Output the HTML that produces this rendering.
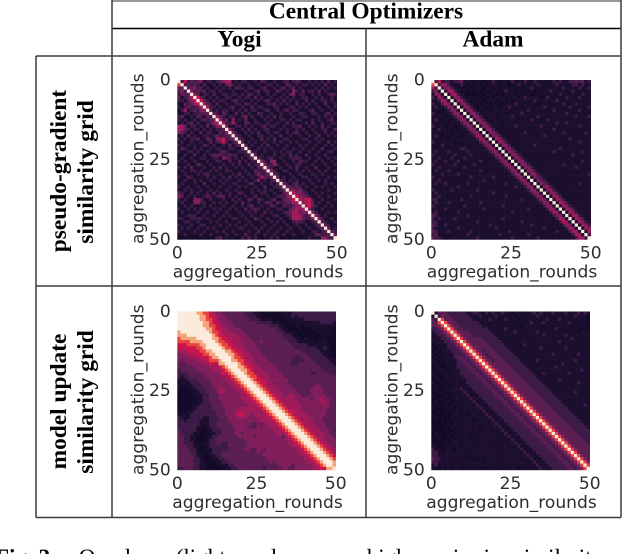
<!DOCTYPE html>
<html>
<head>
<meta charset="utf-8">
<title>Central Optimizers similarity grids</title>
<style>
html,body{margin:0;padding:0;background:#fff;width:634px;height:554px;overflow:hidden}
svg{display:block}
.hdr{font-family:"Liberation Serif",serif;font-weight:bold;font-size:23.4px;fill:#000;text-anchor:middle}
.ax{font-family:"DejaVu Sans",sans-serif;font-size:17.1px;fill:#2e2e2e}
.cap{font-family:"Liberation Serif",serif;font-size:23px;fill:#000}
</style>
</head>
<body>
<svg id="chart" width="634" height="554" viewBox="0 0 634 554" xmlns="http://www.w3.org/2000/svg">
<g stroke="#3a3a3a" stroke-width="1.5" fill="none">
<line x1="112" y1="1" x2="621" y2="1" stroke="#777"/>
<line x1="112" y1="28.5" x2="621" y2="28.5" stroke="#000"/>
<line x1="36" y1="56" x2="621" y2="56"/>
<line x1="36" y1="286" x2="621" y2="286"/>
<line x1="36" y1="517.5" x2="621" y2="517.5"/>
<line x1="36" y1="56" x2="36" y2="517.5"/>
<line x1="112" y1="0" x2="112" y2="517.5"/>
<line x1="366" y1="28.5" x2="366" y2="517.5"/>
<line x1="621" y1="0" x2="621" y2="517.5"/>
</g>
<text class="hdr" x="366" y="18.5">Central Optimizers</text>
<text class="hdr" x="239.5" y="46.5">Yogi</text>
<text class="hdr" x="493" y="46.5">Adam</text>
<text class="hdr" transform="translate(66,171) rotate(-90)">pseudo-gradient</text>
<text class="hdr" transform="translate(93,172) rotate(-90)">similarity grid</text>
<text class="hdr" transform="translate(66,401.5) rotate(-90)">model update</text>
<text class="hdr" transform="translate(93,402) rotate(-90)">similarity grid</text>
<text class="cap" y="565"><tspan x="-5" font-weight="bold">Fig. 2:</tspan><tspan x="73"> Overlap</tspan><tspan x="170"> (lighter colors mean higher pairwise similarity</tspan></text>
</svg>
<script>
const tickValues = [0, 25, 50];
const axisDomain = [0, 50];
const axisLabel = 'aggregation_rounds';
const levelMax = 9;

const yogiGradient = [
[9,2,6,2,3,2,3,4,1,2, 2,1,2,3,4,5,5,1,2,1, 2,2,1,1,2,1,3,2,1,1, 2,1,1,2,2,1,2,3,2,1, 1,2,1,2,1,2,1,3,1,2],
[7,9,2,3,2,3,2,1,3,1, 1,2,1,2,1,3,4,2,1,2, 1,1,2,1,1,2,1,1,2,2, 1,2,1,1,3,2,1,2,1,2, 2,1,2,1,2,1,3,1,2,1],
[3,3,9,3,3,4,2,3,1,2, 1,1,2,1,2,1,2,1,3,2, 2,1,2,2,1,1,2,3,1,1, 2,1,2,3,1,2,3,1,2,1, 1,1,1,2,1,2,1,2,1,2],
[3,4,2,9,4,2,3,2,3,1, 2,2,1,2,1,1,1,2,1,1, 1,2,1,1,2,3,1,2,2,1, 1,3,2,1,2,1,4,2,1,3, 1,2,2,1,3,1,2,1,1,1],
[2,3,3,3,9,4,3,1,2,2, 1,3,1,1,2,2,1,2,2,1, 2,1,3,2,1,2,1,1,2,1, 2,1,1,2,1,3,4,1,2,2, 1,1,2,1,2,1,1,2,3,2],
[3,1,2,3,5,9,6,3,2,1, 2,1,2,1,1,2,2,1,1,2, 1,2,2,1,3,1,2,1,1,2, 1,1,2,1,2,1,2,1,1,2, 2,1,1,2,1,2,1,1,2,1],
[2,2,1,3,4,6,9,6,3,2, 1,2,1,2,2,1,1,2,3,1, 2,1,1,2,1,2,1,2,3,1, 1,2,1,3,1,2,1,2,1,1, 3,1,2,1,1,2,2,1,2,1],
[1,1,3,2,3,5,5,9,5,3, 2,1,3,1,1,2,1,1,2,2, 1,3,2,1,2,1,1,1,2,2, 3,1,2,1,2,1,1,3,1,2, 1,2,1,2,1,1,3,1,1,2],
[2,1,2,3,2,2,3,5,9,5, 2,2,1,2,1,1,2,3,1,1, 2,1,1,3,1,2,2,1,1,1, 2,2,1,1,1,2,2,1,2,1, 2,1,1,1,2,1,1,2,1,2],
[0,2,5,1,2,3,2,4,4,9, 3,1,2,1,2,2,1,2,1,2, 1,3,1,2,2,1,1,2,3,1, 1,2,1,2,3,1,2,2,1,1, 1,2,3,1,1,2,1,1,2,1],
[1,1,2,2,1,2,2,3,3,3, 9,3,2,1,3,2,1,1,3,1, 2,1,2,1,1,3,2,1,1,2, 1,1,2,1,1,2,1,1,2,2, 1,1,2,2,1,1,2,3,1,2],
[2,3,1,1,2,1,3,2,1,3, 2,9,5,3,2,1,2,2,1,1, 2,4,1,2,1,1,2,1,2,1, 3,1,2,1,1,1,2,1,1,2, 2,1,1,1,2,1,2,1,2,1],
[2,1,2,1,1,2,1,2,3,2, 3,3,9,5,2,3,1,4,1,2, 1,3,1,1,2,1,1,2,1,2, 1,1,2,2,1,2,1,2,2,1, 1,1,2,1,2,1,1,2,3,1],
[1,2,1,2,3,1,2,1,1,2, 2,5,5,9,5,2,2,5,2,1, 1,3,2,1,2,2,1,1,2,1, 1,2,1,1,3,1,2,1,1,1, 2,1,3,1,1,2,1,1,2,2],
[5,5,3,1,2,2,1,2,1,3, 1,2,4,4,9,4,1,1,2,2, 1,2,1,2,1,1,2,3,1,2, 2,1,1,2,1,1,2,2,3,1, 1,2,1,2,1,3,1,2,1,1],
[5,5,3,2,1,2,2,1,2,1, 2,1,2,2,3,9,4,2,1,1, 2,1,3,1,2,1,1,2,2,1, 1,1,2,1,2,1,1,2,1,2, 1,1,2,1,1,2,2,1,1,3],
[4,3,2,1,2,1,1,3,1,2, 2,1,1,3,2,4,9,4,2,1, 1,2,1,2,1,3,1,1,2,1, 2,2,1,1,2,1,2,3,1,1, 2,1,1,2,1,1,2,1,2,1],
[1,2,1,3,1,2,1,1,2,2, 1,2,3,2,2,3,3,9,3,2, 1,1,2,1,1,2,2,1,1,2, 1,1,3,1,1,2,1,1,2,1, 1,2,1,1,3,1,1,2,1,2],
[2,1,2,1,2,2,3,1,1,3, 2,1,4,4,6,2,3,3,9,3, 2,1,1,2,1,1,3,1,2,1, 3,1,1,2,2,1,1,1,1,2, 2,1,1,2,1,2,1,1,1,1],
[1,2,1,1,2,1,1,2,1,1, 3,1,2,3,6,2,1,2,3,9, 3,1,2,1,2,1,1,2,1,1, 2,1,2,1,1,2,1,2,1,1, 1,2,1,1,2,1,1,3,1,2],
[2,1,1,2,1,2,1,1,3,2, 1,2,1,1,2,1,3,1,2,3, 9,3,1,2,1,1,2,1,3,1, 1,2,1,1,2,1,1,1,2,1, 2,1,1,2,1,1,2,1,2,1],
[1,3,2,1,1,2,1,2,1,1, 2,1,2,2,1,1,2,2,1,1, 3,9,2,1,1,2,1,2,1,2, 1,1,1,2,1,1,2,1,1,2, 1,1,2,1,1,3,1,1,1,2],
[2,1,1,2,2,1,2,1,1,2, 1,1,1,2,3,2,1,1,1,2, 2,2,9,2,2,1,1,2,1,1, 2,1,2,1,2,2,1,1,2,1, 1,2,1,1,2,1,1,2,2,1],
[1,1,2,1,1,3,1,1,2,1, 2,3,3,3,2,2,3,2,2,1, 1,2,2,9,3,1,2,1,1,1, 2,1,1,2,1,3,1,2,1,1, 3,1,1,2,1,1,2,1,1,1],
[1,2,1,1,2,1,1,2,2,1, 1,2,2,1,4,3,2,1,2,1, 2,1,2,3,9,3,2,1,2,3, 1,1,2,1,1,2,2,3,2,1, 1,2,1,1,2,1,1,2,1,2],
[2,1,2,1,1,2,1,1,1,2, 1,1,2,2,1,1,3,1,1,3, 1,2,1,2,2,9,4,2,1,4, 5,1,1,2,1,1,2,1,3,2, 2,1,1,2,1,2,1,1,2,1],
[1,1,1,2,1,1,3,2,1,1, 2,1,1,1,2,1,1,2,1,2, 1,1,3,1,2,3,9,4,2,2, 5,2,1,1,2,1,1,2,2,1, 1,1,2,1,1,1,2,1,1,2],
[2,1,2,1,3,1,1,1,2,1, 1,2,1,3,1,2,1,1,2,1, 2,1,1,2,1,3,3,9,3,2, 1,1,2,1,1,2,1,3,1,1, 2,1,1,3,1,1,1,2,1,1],
[1,2,1,1,2,2,1,2,1,1, 2,1,2,1,1,2,2,1,1,1, 1,2,1,1,3,2,2,3,9,4, 2,1,1,2,2,1,1,2,1,2, 1,2,1,1,2,1,2,1,1,2],
[1,1,2,1,1,1,2,1,2,3, 1,1,1,2,1,1,1,2,1,3, 1,1,2,1,2,4,2,2,3,9, 3,2,1,1,1,2,1,1,2,1, 1,1,2,1,1,2,1,1,1,1],
[2,1,1,3,2,1,1,1,1,2, 1,2,1,1,2,1,3,1,2,1, 2,1,1,2,1,2,5,3,2,3, 9,3,1,2,1,1,2,1,1,2, 2,1,1,2,1,1,1,2,1,2],
[1,1,2,1,1,2,1,2,1,1, 2,1,1,2,1,2,1,1,1,2, 1,2,1,1,2,4,1,2,1,2, 3,9,3,2,1,2,1,2,1,1, 1,2,1,1,2,1,2,1,1,1],
[1,2,1,1,1,2,1,1,3,1, 1,2,1,1,2,1,1,2,2,1, 1,1,2,3,1,1,2,1,1,2, 1,3,9,3,2,1,2,3,1,2, 1,1,2,1,1,1,2,1,2,1],
[2,1,1,2,1,1,2,1,1,2, 1,1,1,2,1,1,2,1,1,2, 1,2,1,1,2,1,1,3,1,1, 2,2,3,9,3,3,2,3,2,1, 2,1,1,2,1,2,1,1,1,2],
[1,1,2,1,2,1,1,2,1,1, 2,1,2,1,1,2,1,1,2,1, 1,1,1,2,1,2,1,2,1,2, 1,1,2,3,9,4,4,3,4,2, 1,1,2,1,1,1,1,2,1,1],
[3,2,1,1,2,1,2,1,1,2, 1,3,1,2,1,1,2,1,1,3, 2,1,1,2,1,1,2,2,1,1, 2,1,1,3,4,9,5,4,4,3, 2,1,1,2,1,2,1,1,1,2],
[4,3,1,2,1,2,1,1,2,3, 2,1,2,3,3,1,2,1,2,1, 1,2,1,1,3,1,1,1,2,1, 1,2,3,2,4,5,9,6,4,4, 3,2,1,1,2,1,1,2,1,1],
[2,1,2,1,1,4,4,3,1,1, 2,1,1,1,2,1,1,2,1,2, 1,1,3,2,1,3,2,1,1,2, 3,1,1,3,3,4,6,9,5,4, 6,6,2,1,1,2,1,1,1,2],
[1,2,1,1,1,4,4,2,2,1, 1,2,1,2,1,2,1,1,2,1, 3,1,2,1,1,2,1,2,3,2, 1,3,2,2,3,3,5,5,9,4, 5,6,3,1,2,1,1,2,1,1],
[1,1,2,1,2,1,1,1,2,1, 2,1,1,1,2,1,1,2,1,1, 2,1,2,3,1,1,2,1,1,3, 2,1,1,3,2,2,3,4,4,9, 5,6,3,2,1,1,2,1,2,1],
[2,1,1,2,1,2,1,2,1,1, 1,2,1,2,1,1,2,1,2,1, 1,3,1,2,3,2,1,1,2,1, 1,2,2,1,1,3,4,5,4,5, 9,4,2,1,1,2,1,1,1,1],
[1,2,1,1,1,1,2,1,1,2, 1,1,2,1,1,2,1,1,1,2, 1,1,2,1,2,1,1,3,1,2, 1,1,1,2,3,3,5,5,3,4, 4,9,4,2,1,1,1,2,1,2],
[1,1,1,2,2,2,1,1,2,1, 1,2,1,1,2,1,2,1,1,1, 2,1,1,2,1,1,2,1,1,1, 2,2,1,1,2,3,5,5,5,3, 2,4,9,4,2,1,2,1,1,1],
[2,2,1,1,2,2,2,2,1,2, 1,1,1,2,1,1,1,2,2,1, 1,2,1,1,3,2,1,1,2,1, 1,1,2,1,1,2,5,5,5,3, 2,2,4,9,4,2,1,1,2,1],
[1,1,2,2,1,1,2,1,1,1, 2,1,2,1,1,2,1,1,1,2, 1,1,2,1,1,1,2,1,1,2, 1,2,1,2,1,1,2,3,2,2, 1,1,2,3,9,3,2,1,1,2],
[2,1,1,1,2,1,1,2,2,1, 1,1,1,2,1,1,2,1,2,1, 1,2,1,2,1,1,1,2,1,1, 2,1,1,1,2,1,1,2,1,1, 2,1,1,2,3,9,3,2,1,1],
[1,2,1,2,1,1,2,1,1,2, 1,2,1,1,1,2,1,1,1,2, 2,1,1,1,2,1,2,1,1,2, 1,1,2,1,1,2,1,1,2,1, 1,2,1,1,2,3,9,3,1,2],
[2,1,1,1,1,2,1,1,2,1, 1,1,2,1,2,1,1,2,1,1, 1,1,2,1,1,3,1,1,2,1, 1,2,1,1,2,1,1,1,1,2, 1,1,2,2,1,2,3,9,3,2],
[1,1,2,1,1,1,1,2,1,1, 2,1,1,1,1,2,1,1,2,1, 1,3,1,1,2,1,1,2,1,1, 2,1,1,2,1,1,2,1,1,1, 1,1,1,3,3,2,2,3,9,3],
[0,0,1,1,0,1,0,1,1,0, 1,1,2,3,1,1,1,1,0,1, 2,1,3,1,2,1,0,1,1,2, 1,2,0,1,1,0,1,1,0,1, 1,2,1,1,1,4,4,2,2,9]
];

const adamGradient = [
[9,2,6,1,2,2,1,2,2,3, 1,1,1,0,1,1,0,1,1,2, 1,1,1,1,1,2,1,1,1,2, 1,1,2,1,1,1,1,1,2,1, 2,1,1,2,2,3,2,3,1,2],
[7,9,2,5,4,2,1,1,1,2, 1,0,1,1,1,0,1,0,1,1, 1,0,1,1,0,1,1,2,1,1, 1,1,1,2,1,1,1,1,1,2, 1,1,1,1,2,2,1,2,1,1],
[5,2,9,2,4,4,2,1,1,1, 0,1,0,1,1,1,0,1,1,0, 1,1,1,1,1,1,1,1,0,1, 1,2,1,1,1,0,1,1,1,1, 1,2,1,1,1,1,2,1,1,2],
[2,4,1,9,1,5,5,2,1,0, 1,0,1,0,1,0,1,1,0,1, 1,0,1,2,1,1,0,1,1,1, 1,1,0,1,1,1,1,2,1,1, 1,1,1,1,2,1,1,1,1,1],
[1,4,4,1,9,1,5,5,2,1, 1,0,0,1,0,1,0,1,1,1, 0,1,0,1,1,1,1,1,1,1, 1,0,1,1,1,1,1,1,1,1, 2,1,1,1,1,1,1,2,1,1],
[2,1,5,3,1,9,1,4,4,2, 1,1,1,0,1,0,1,0,1,0, 1,1,1,0,1,1,1,0,1,2, 1,1,1,1,0,1,2,1,1,1, 1,1,2,1,1,1,2,1,1,1],
[1,1,2,5,4,1,9,1,5,4, 2,1,0,1,0,1,0,1,1,1, 0,1,1,1,1,0,1,1,1,1, 1,1,2,1,1,1,1,1,1,2, 1,1,1,1,1,1,1,1,1,1],
[2,1,1,3,5,4,1,9,1,4, 4,2,1,1,1,0,1,1,0,1, 1,1,0,1,1,1,2,1,1,1, 1,1,1,0,1,1,1,1,1,1, 1,2,1,1,1,2,1,1,1,1],
[1,2,1,1,2,4,4,1,9,1, 4,4,2,1,0,1,1,0,1,1, 1,0,1,1,2,1,1,1,0,1, 1,1,1,1,1,2,1,1,1,1, 1,1,1,2,1,1,1,1,1,2],
[1,1,1,0,1,2,4,4,1,9, 1,4,4,2,1,1,1,1,0,1, 1,1,1,1,1,1,1,1,1,1, 2,1,1,1,1,1,1,1,2,1, 1,1,1,1,1,1,2,1,1,1],
[2,1,0,1,1,1,2,4,4,1, 9,1,4,4,2,1,1,1,1,1, 1,1,1,0,1,1,1,1,2,1, 1,1,1,1,1,1,1,1,1,1, 1,1,2,1,1,1,1,1,1,1],
[1,1,1,1,0,1,1,2,4,4, 1,9,1,4,4,2,1,1,1,1, 0,1,1,1,1,2,1,1,1,1, 1,1,1,2,1,1,1,1,1,1, 1,1,1,1,1,2,1,1,1,2],
[1,2,1,0,1,1,0,1,2,4, 4,1,9,1,4,4,2,1,1,1, 1,1,1,1,1,1,1,1,1,1, 1,2,1,1,1,1,2,1,1,1, 1,1,1,1,1,1,1,1,1,1],
[1,1,1,1,1,0,1,1,1,2, 4,4,1,9,1,4,4,2,1,1, 1,1,0,1,1,1,1,1,1,1, 1,1,1,1,1,1,1,1,1,2, 1,1,2,1,1,1,1,1,1,1],
[2,1,1,1,0,1,1,0,1,1, 2,4,4,1,9,1,4,4,2,1, 1,1,1,1,1,1,2,1,1,1, 1,1,1,1,2,1,1,1,1,1, 1,1,1,1,1,1,2,1,1,1],
[1,1,2,1,1,1,1,1,0,1, 1,2,4,4,1,9,1,4,4,2, 1,1,1,1,1,1,1,1,1,1, 1,1,1,1,1,1,1,1,2,1, 1,1,1,1,1,1,1,1,1,1],
[1,1,1,1,1,1,0,1,1,1, 1,1,2,4,4,1,9,1,4,4, 2,1,1,1,1,1,1,1,1,2, 1,1,1,1,1,1,1,1,1,1, 1,2,1,1,1,1,1,1,2,1],
[1,2,1,0,1,1,1,1,1,0, 1,1,1,2,5,4,1,9,1,4, 4,2,1,1,1,1,1,1,1,1, 1,1,1,1,1,2,1,1,1,1, 1,1,1,1,1,1,1,1,1,1],
[1,1,1,1,1,0,1,1,1,1, 1,1,1,1,2,5,4,1,9,1, 5,4,2,1,1,1,1,1,1,1, 1,1,1,1,1,1,1,1,1,1, 1,1,1,2,1,1,1,1,1,1],
[2,1,1,1,1,1,1,0,1,1, 1,1,1,1,1,2,4,4,1,9, 1,5,4,2,1,1,1,1,1,1, 1,1,1,1,1,1,1,1,1,1, 1,1,1,1,1,1,2,1,1,1],
[1,1,1,2,1,1,1,1,1,1, 1,1,1,1,1,1,2,4,4,1, 9,1,4,4,2,1,1,1,1,1, 1,1,2,1,1,1,1,1,1,1, 1,1,1,1,1,1,1,1,1,1],
[1,1,1,1,1,1,1,1,1,2, 2,1,1,1,1,1,1,2,4,4, 1,9,1,4,4,2,1,1,1,1, 1,1,1,1,1,1,1,1,1,1, 2,1,1,1,1,1,1,1,1,1],
[1,2,1,1,1,2,1,1,1,1, 1,2,1,1,1,1,1,1,2,4, 4,1,9,1,4,4,2,1,1,1, 1,1,1,1,1,1,1,1,2,1, 1,1,1,1,1,1,1,2,1,1],
[2,1,1,1,1,1,1,2,1,1, 1,1,2,1,1,1,1,1,1,2, 4,4,1,9,1,4,4,2,1,1, 1,1,1,1,1,1,1,1,1,1, 1,1,1,1,2,1,1,1,1,1],
[1,1,2,1,1,1,2,1,1,1, 2,1,1,1,1,1,1,1,1,1, 2,4,4,1,9,1,4,4,2,1, 1,1,1,1,1,1,1,1,1,1, 1,1,1,1,1,1,1,1,1,1],
[1,2,1,1,2,1,1,1,2,1, 1,1,1,1,1,2,1,1,1,1, 1,2,4,4,1,9,1,4,4,2, 1,1,1,1,1,1,1,1,1,1, 1,1,1,1,1,1,1,2,1,1],
[2,1,1,1,1,1,1,2,1,1, 1,1,1,2,1,1,1,1,1,1, 1,1,2,4,4,1,9,1,4,4, 2,1,1,1,1,1,1,1,1,1, 1,2,1,1,1,1,1,1,1,1],
[1,1,2,1,1,1,1,1,1,1, 2,1,1,1,1,1,1,1,1,1, 1,1,1,2,4,4,1,9,1,4, 4,2,1,1,1,1,1,1,1,1, 1,1,1,1,1,2,1,1,1,1],
[1,2,1,1,1,2,1,1,1,1, 1,1,1,1,1,2,1,1,1,1, 1,1,1,1,2,4,4,1,9,1, 4,4,2,1,1,1,1,1,1,1, 1,1,1,1,1,1,1,1,1,1],
[1,1,1,2,1,1,1,1,2,1, 1,1,1,1,1,1,1,1,1,1, 1,1,1,1,1,2,4,4,1,9, 1,4,4,2,1,1,1,1,1,1, 1,1,1,1,1,1,1,1,1,2],
[2,1,1,1,1,1,1,1,1,1, 1,1,2,1,1,1,1,1,1,2, 1,1,1,1,1,1,2,4,4,1, 9,1,4,3,2,1,1,1,1,1, 1,1,1,1,1,1,1,1,1,1],
[1,1,2,1,1,1,1,1,1,1, 1,1,1,1,1,1,2,1,1,1, 1,1,1,1,1,1,1,2,4,4, 1,9,1,4,3,2,1,1,1,1, 1,1,1,1,1,1,1,1,1,1],
[1,2,1,1,2,1,1,1,1,1, 1,2,1,1,1,1,1,1,1,1, 1,1,1,2,1,1,1,1,2,4, 4,1,9,1,4,3,2,1,1,1, 1,1,1,1,1,1,2,1,1,1],
[1,1,1,1,1,1,1,1,2,1, 1,1,1,1,1,1,1,1,1,1, 1,1,1,1,1,1,2,1,1,2, 4,4,1,9,1,4,4,2,1,1, 1,1,1,1,1,1,1,1,1,1],
[2,1,1,1,1,1,2,1,1,1, 1,1,1,1,2,1,1,1,1,1, 1,1,1,1,1,1,1,1,1,1, 2,4,4,1,9,1,4,4,2,1, 1,1,1,1,1,1,1,1,1,1],
[1,2,1,1,1,1,1,1,1,1, 1,1,1,1,1,1,1,1,1,2, 1,1,1,1,1,1,1,1,1,1, 1,2,4,4,1,9,1,4,4,2, 1,1,1,1,1,1,1,1,1,1],
[1,1,2,1,1,1,1,1,1,1, 1,1,2,1,1,1,1,1,1,1, 1,1,1,2,1,1,1,1,1,1, 1,1,2,4,4,1,9,1,5,4, 2,1,1,1,1,1,1,1,1,1],
[2,2,1,1,1,1,1,1,1,2, 1,1,1,1,1,1,1,1,1,1, 1,1,1,1,1,1,1,1,2,1, 1,1,1,2,4,4,1,9,1,5, 4,2,1,1,1,1,1,1,1,1],
[1,2,1,1,1,2,1,1,1,1, 1,1,1,1,1,2,1,1,1,1, 1,1,1,1,1,1,1,1,1,1, 1,1,1,1,2,4,4,1,9,1, 5,4,2,1,1,1,1,1,1,1],
[2,1,1,1,1,1,1,1,1,1, 2,1,1,1,1,1,1,1,1,1, 1,1,2,1,1,1,1,1,1,1, 1,1,1,1,1,2,4,4,1,9, 1,5,4,2,1,1,1,1,1,1],
[1,1,1,1,2,1,1,1,1,1, 1,1,1,1,1,1,2,1,1,1, 1,1,1,1,1,1,1,1,1,1, 2,1,1,1,1,1,2,5,4,1, 9,1,5,4,2,1,1,1,1,1],
[1,2,1,1,1,1,1,1,2,1, 1,1,1,1,1,1,1,1,1,1, 1,1,1,1,1,2,1,1,1,1, 1,1,1,1,1,1,1,2,5,4, 1,9,1,5,4,2,1,1,1,1],
[3,2,1,1,1,1,1,1,1,1, 1,2,1,1,1,1,1,1,1,1, 1,1,1,1,1,1,1,1,1,1, 1,1,1,1,1,1,1,1,2,4, 4,1,9,1,5,5,2,1,1,1],
[2,1,2,1,1,1,1,2,1,1, 1,1,1,1,1,1,1,1,1,1, 1,1,2,1,1,1,1,1,1,1, 1,1,1,1,1,1,1,1,1,2, 5,4,1,9,1,5,4,2,1,1],
[2,2,1,1,1,1,1,1,1,1, 1,1,1,1,2,1,1,1,1,1, 1,1,1,1,1,1,1,1,2,1, 1,1,1,1,1,1,1,1,1,1, 2,6,4,1,9,1,5,4,2,1],
[3,2,1,1,2,1,1,1,1,1, 1,1,1,1,1,1,1,1,2,1, 1,1,1,1,1,1,1,1,1,1, 1,2,1,1,1,1,1,1,1,1, 1,2,5,4,1,9,1,5,4,2],
[2,1,1,1,1,1,1,1,2,1, 1,1,1,1,1,1,1,1,1,1, 2,1,1,1,1,1,1,1,1,1, 1,1,1,1,1,2,1,1,1,1, 1,1,2,5,4,1,9,1,5,4],
[3,2,1,1,1,2,1,1,1,1, 1,1,2,1,1,1,1,1,1,1, 1,1,1,1,2,1,1,1,1,1, 1,1,1,1,1,1,1,1,1,2, 1,1,1,2,5,5,1,9,1,5],
[2,3,1,0,1,1,1,1,1,1, 1,2,1,1,1,1,1,1,1,1, 1,2,1,1,1,1,1,1,1,1, 2,1,1,1,1,1,1,1,1,1, 1,1,1,1,2,5,5,1,9,2],
[3,2,2,1,0,1,1,1,1,1, 1,1,1,1,2,1,1,1,1,1, 1,1,1,1,1,2,1,1,1,1, 1,1,1,2,1,1,1,1,1,1, 1,1,1,1,1,2,5,5,2,9]
];

const yogiUpdate = [
[9,9,9,9,9,9,8,8,7,7, 6,5,4,4,3,3,3,3,3,3, 3,2,2,2,1,1,0,0,0,0, 0,0,1,1,1,1,2,2,2,2, 2,2,2,2,2,2,2,2,2,2],
[9,9,9,9,9,9,9,8,8,7, 6,6,5,4,4,3,3,3,3,3, 3,3,2,2,2,1,1,0,0,0, 0,0,0,1,1,1,2,1,2,2, 2,2,2,2,2,2,2,2,2,2],
[9,9,9,9,9,9,9,8,8,7, 7,6,5,4,4,4,3,3,3,3, 3,3,3,2,2,2,1,1,1,1, 0,0,0,0,1,1,1,1,1,1, 2,2,2,2,2,2,2,2,2,2],
[9,9,9,9,9,9,9,9,8,8, 7,6,6,5,4,4,4,3,3,3, 3,3,3,3,3,2,2,2,2,2, 1,1,1,0,0,1,1,1,1,1, 1,1,1,1,1,2,2,2,2,1],
[9,9,9,9,9,9,9,9,8,8, 7,7,6,5,5,4,4,4,3,3, 3,3,3,3,3,3,3,3,3,2, 2,2,1,1,0,0,0,1,1,0, 1,1,1,1,1,1,1,1,1,1],
[9,9,9,9,9,9,9,9,9,8, 8,7,6,6,5,5,4,4,4,4, 3,3,3,3,3,3,3,3,3,3, 3,2,2,1,1,0,0,0,1,0, 0,0,1,1,1,1,1,1,1,0],
[8,9,9,9,9,9,9,9,9,9, 8,7,7,6,5,5,5,4,4,4, 4,3,3,3,3,3,3,3,3,3, 3,3,2,2,1,1,1,0,0,0, 0,0,0,0,1,1,1,1,0,0],
[8,8,8,9,9,9,9,9,9,9, 9,8,7,6,6,5,5,5,5,4, 4,4,3,3,3,3,3,3,3,3, 3,3,3,2,2,2,1,1,0,0, 0,0,0,0,0,0,1,1,0,0],
[7,8,8,8,8,8,9,9,9,9, 9,8,8,7,6,6,5,5,5,5, 4,4,4,3,3,3,3,3,3,3, 3,3,3,3,2,2,2,1,1,0, 1,1,0,0,0,1,1,0,0,0],
[7,7,7,7,8,8,8,8,9,9, 9,9,8,7,7,6,6,5,5,5, 4,4,4,4,3,3,4,3,3,3, 3,3,3,3,3,2,2,2,1,1, 1,1,1,0,1,1,1,1,0,0],
[6,6,6,7,7,7,7,8,8,9, 9,9,9,8,7,7,6,6,5,5, 5,4,4,4,4,3,3,3,3,3, 3,3,3,3,3,3,2,2,2,2, 2,1,1,1,1,1,1,1,0,0],
[6,6,6,6,6,6,7,7,8,9, 9,9,9,9,8,7,7,6,6,5, 5,4,4,4,4,3,3,3,3,3, 3,3,3,3,3,3,3,2,2,2, 2,2,2,2,1,1,2,1,0,0],
[5,5,5,6,6,6,6,7,7,8, 8,9,9,9,9,8,8,7,6,6, 5,5,4,4,4,4,3,3,3,3, 3,3,3,3,3,3,3,3,3,2, 2,2,2,2,2,1,1,1,0,0],
[4,4,5,5,5,6,6,6,7,7, 8,8,9,9,9,9,8,8,7,6, 6,5,5,4,4,4,4,3,3,3, 3,3,3,3,3,3,3,3,3,3, 3,2,2,2,2,2,1,1,0,0],
[4,4,4,4,5,5,5,6,6,6, 7,8,8,9,9,9,9,8,7,7, 6,5,5,5,4,4,4,4,3,3, 3,3,3,3,3,3,3,2,2,3, 3,3,2,2,2,2,2,1,1,0],
[4,3,4,4,4,4,5,5,5,6, 7,7,7,8,9,9,9,8,8,7, 7,6,5,5,4,4,4,4,4,3, 3,3,3,3,3,3,2,2,2,2, 3,3,3,2,2,2,2,2,1,1],
[3,3,3,4,4,4,4,4,5,5, 6,6,5,8,8,9,9,9,9,8, 7,6,6,5,5,4,4,4,4,4, 3,3,3,3,3,3,2,2,3,3, 3,3,3,3,2,2,2,2,2,1],
[3,3,3,3,3,4,4,4,4,4, 5,5,5,6,7,8,9,9,9,8, 8,7,6,6,5,5,4,4,4,4, 4,3,3,3,3,3,3,3,3,3, 3,3,3,3,3,2,2,2,2,2],
[2,3,3,3,3,3,4,4,4,4, 4,5,5,5,6,7,8,9,9,9, 8,8,7,6,5,5,5,4,4,4, 4,4,3,3,3,3,3,3,3,3, 3,3,3,3,3,3,2,2,2,2],
[2,2,2,3,3,3,3,3,4,4, 4,4,4,5,6,6,7,8,9,9, 9,8,7,7,6,5,5,5,4,4, 4,4,4,3,3,3,3,3,3,3, 3,3,2,2,3,3,3,3,2,2],
[2,1,2,2,3,3,3,3,3,4, 4,4,4,4,5,5,6,7,8,9, 9,9,8,7,7,6,5,5,5,4, 4,4,4,4,3,3,3,3,3,3, 3,3,3,3,3,3,3,3,3,3],
[1,1,1,2,2,2,3,3,3,3, 4,4,4,4,4,5,5,6,7,8, 9,9,9,8,7,6,6,5,5,4, 4,5,4,4,4,3,3,3,3,3, 3,3,3,3,3,3,3,3,3,3],
[1,1,1,1,2,2,2,3,3,3, 3,4,4,4,4,4,5,5,6,7, 8,9,9,9,8,7,6,6,5,5, 4,4,4,4,4,3,3,3,3,3, 3,3,3,3,3,3,3,3,3,3],
[1,0,0,1,1,2,2,2,3,3, 3,4,4,4,4,4,4,5,5,6, 7,8,9,9,9,8,7,6,5,5, 5,4,4,4,4,4,3,3,3,3, 3,3,3,4,4,3,3,3,3,3],
[0,0,0,0,1,1,2,2,2,3, 3,3,4,5,5,4,4,4,5,5, 6,7,8,9,9,9,8,7,6,5, 5,5,4,4,4,4,4,3,3,3, 3,3,4,4,4,4,3,3,3,3],
[0,0,0,0,0,1,1,2,2,3, 3,3,4,5,5,4,4,4,4,5, 5,6,7,8,9,9,9,8,7,6, 5,5,5,4,4,4,4,4,3,3, 3,3,4,4,4,4,3,3,3,3],
[0,0,0,0,0,1,1,1,2,2, 3,3,3,4,4,4,4,4,4,4, 5,5,6,7,8,9,9,9,8,7, 6,5,5,4,4,5,5,4,4,3, 3,3,4,4,4,4,4,3,3,3],
[0,0,0,0,0,0,1,1,2,2, 3,3,3,4,4,4,4,4,4,4, 5,5,5,6,7,8,9,9,9,8, 7,6,5,5,5,5,5,4,4,4, 4,4,3,4,4,5,4,4,3,3],
[0,0,0,0,0,0,1,1,2,2, 3,3,3,3,4,4,4,4,4,4, 4,5,5,5,6,7,8,9,9,9, 8,7,6,5,5,5,5,5,4,4, 4,4,4,4,4,5,5,4,3,3],
[0,0,0,0,0,1,1,2,2,2, 2,3,3,3,4,4,4,4,4,4, 4,4,5,5,5,6,7,8,9,9, 9,8,7,6,5,5,5,5,5,4, 4,4,4,4,4,4,5,4,3,3],
[0,0,0,0,1,1,2,2,2,2, 2,3,3,3,3,4,4,4,4,5, 5,5,5,5,5,5,6,7,8,9, 9,9,8,7,6,5,5,5,5,4, 4,4,4,4,4,4,4,4,3,3],
[1,0,0,1,1,2,2,2,2,2, 2,2,3,3,3,4,4,4,5,5, 5,5,5,5,5,5,5,6,7,8, 9,9,9,8,7,6,6,5,5,5, 4,4,4,4,4,4,4,3,3,3],
[1,1,1,1,2,2,2,2,2,2, 2,2,3,3,3,4,4,4,5,6, 6,5,5,4,5,5,5,5,6,7, 8,9,9,9,8,7,6,5,5,5, 5,4,4,4,4,4,4,3,3,3],
[2,1,1,1,2,2,2,2,1,1, 2,2,2,3,3,3,4,4,4,5, 5,5,4,4,4,5,5,5,5,6, 7,8,9,9,9,8,7,6,5,5, 5,5,4,4,4,4,3,3,3,3],
[2,2,1,2,2,2,2,1,1,1, 2,2,2,3,3,3,4,4,4,4, 4,4,4,4,4,4,5,5,5,5, 6,7,8,9,9,9,8,7,6,5, 5,5,5,4,4,4,3,3,3,3],
[2,2,2,2,2,2,2,1,1,1, 2,2,3,3,3,3,3,4,4,4, 4,4,4,3,3,4,3,4,5,5, 5,6,7,8,9,9,9,8,7,6, 5,5,5,4,4,4,4,3,3,3],
[2,2,2,2,2,2,1,1,0,1, 2,2,2,3,3,3,3,3,4,4, 4,4,3,3,3,4,4,4,4,5, 5,5,6,7,8,9,9,9,8,7, 6,5,5,5,4,4,4,3,3,3],
[3,2,2,2,2,2,1,0,0,1, 1,2,2,2,3,3,3,3,4,4, 4,4,4,4,4,4,4,4,4,4, 5,5,5,6,7,8,9,9,9,8, 7,6,5,5,5,4,4,4,3,3],
[3,2,2,2,2,1,1,0,0,0, 1,1,2,2,3,3,3,3,4,4, 3,4,4,4,4,4,4,4,4,4, 4,5,5,5,6,7,8,9,9,9, 8,7,6,5,5,5,4,4,3,3],
[3,3,2,2,1,1,0,0,0,1, 1,2,2,3,3,3,3,3,3,4, 4,4,4,4,3,4,4,4,4,4, 4,4,4,3,5,6,7,8,9,9, 9,8,7,6,5,5,4,4,4,3],
[3,3,2,2,1,1,0,0,0,1, 2,2,3,3,3,3,3,3,3,3, 3,4,4,4,4,4,4,4,4,4, 4,4,4,4,5,5,6,7,8,9, 9,9,8,7,6,5,5,4,4,4],
[3,3,2,2,2,1,0,0,1,1, 2,2,3,3,2,2,3,3,3,3, 3,3,4,4,4,4,4,4,4,4, 4,4,4,4,4,5,5,6,7,8, 9,9,9,8,7,6,5,5,4,4],
[3,3,3,2,2,1,1,0,0,1, 2,2,2,2,2,2,3,3,3,3, 3,3,4,4,4,4,4,4,4,4, 4,4,4,4,4,4,5,5,6,7, 8,9,9,9,8,7,6,5,5,4],
[3,3,3,3,2,2,1,0,0,1, 1,2,2,2,2,2,3,3,3,3, 3,4,4,3,3,4,4,3,4,4, 4,4,4,4,4,4,4,5,5,6, 7,8,9,9,9,8,7,6,5,5],
[3,3,3,3,2,2,1,0,0,0, 1,2,2,2,3,3,3,3,3,3, 3,3,3,3,3,4,3,4,4,4, 4,4,4,4,4,4,4,4,5,5, 6,7,8,9,9,9,8,7,6,5],
[3,3,3,3,3,2,1,1,0,0, 1,1,2,2,3,3,3,3,3,3, 3,3,3,3,3,3,3,4,4,4, 4,4,4,4,4,4,4,4,4,5, 5,6,7,8,9,9,9,8,7,6],
[3,3,3,3,3,2,2,1,0,0, 0,1,1,2,2,3,3,3,3,3, 3,3,3,3,3,3,3,3,4,4, 4,4,4,4,4,4,4,4,4,4, 5,5,6,7,8,9,9,9,8,7],
[3,3,3,3,3,2,2,1,1,0, 0,0,1,1,2,2,3,3,3,3, 3,3,3,3,3,3,3,3,3,4, 3,4,4,4,4,4,4,4,4,4, 4,5,5,6,7,8,9,9,9,8],
[3,3,3,3,3,2,2,1,1,0, 0,0,0,0,1,1,2,2,3,3, 3,3,3,3,3,3,3,3,3,3, 3,3,4,4,4,4,3,4,4,4, 4,4,5,5,6,7,8,9,9,8],
[2,2,3,3,3,2,2,1,1,0, 0,0,0,0,0,1,1,2,2,3, 3,3,3,3,3,3,3,2,3,3, 3,3,3,4,4,3,3,4,4,4, 4,4,4,5,5,6,6,8,8,9]
];

const adamUpdate = [
[9,1,3,3,3,2,2,2,2,2, 2,1,1,2,2,1,1,2,1,2, 1,1,2,1,1,0,1,1,1,0, 1,1,2,1,2,1,1,1,2,1, 1,1,2,1,1,1,2,1,2,1],
[0,9,2,4,3,3,2,2,2,2, 2,2,1,1,1,2,1,1,1,1, 2,1,1,1,1,1,0,1,1,1, 1,1,1,2,1,1,1,1,1,1, 1,1,1,1,1,2,1,1,1,0],
[3,2,9,7,3,3,3,2,2,2, 2,2,2,1,1,1,1,1,2,1, 1,1,1,2,1,1,1,0,1,1, 1,1,1,1,1,1,2,1,1,1, 2,1,1,1,1,1,1,1,1,0],
[3,3,7,9,7,4,3,3,2,2, 2,2,2,2,2,1,1,1,1,1, 1,1,1,1,1,1,1,1,1,1, 1,2,1,1,1,2,1,1,1,1, 1,1,1,2,1,1,1,1,0,0],
[3,3,4,7,9,7,4,3,3,2, 2,2,2,2,2,2,1,1,1,1, 1,1,1,1,1,1,1,1,0,1, 1,1,1,1,1,1,1,1,1,1, 1,1,1,1,1,1,1,1,1,0],
[2,2,3,4,7,9,7,4,3,3, 2,2,2,2,2,2,2,2,1,1, 1,1,1,2,1,1,1,1,1,1, 1,1,1,1,1,1,1,1,1,2, 1,1,1,1,1,1,1,0,1,0],
[1,2,2,3,4,7,9,7,4,3, 3,3,2,2,2,2,2,2,2,1, 1,1,1,1,1,1,2,1,1,1, 1,1,1,2,1,1,1,1,1,1, 1,1,1,1,1,1,0,1,1,1],
[1,1,2,2,3,4,7,9,7,4, 3,3,3,2,2,2,2,2,2,2, 1,1,1,1,1,1,1,1,1,1, 1,1,1,1,1,2,1,1,1,1, 1,1,2,1,1,1,1,1,1,1],
[1,1,1,2,2,3,4,7,9,7, 4,3,3,3,3,3,2,2,2,2, 2,1,1,1,1,1,1,1,1,1, 1,1,1,1,1,1,1,1,1,1, 1,1,1,1,2,1,1,1,1,1],
[1,1,1,1,2,2,3,4,7,9, 7,4,3,3,3,3,3,2,2,2, 2,2,1,1,1,1,1,1,1,1, 1,1,1,1,1,1,1,1,1,1, 2,1,1,1,1,1,1,1,1,1],
[0,1,1,1,1,2,2,3,4,7, 9,7,4,3,3,3,3,3,2,2, 2,2,2,1,1,1,1,1,1,2, 1,1,1,1,1,1,1,1,1,1, 1,1,1,1,1,1,1,1,1,1],
[1,0,1,1,1,2,2,2,3,4, 7,9,7,4,3,3,3,3,3,2, 2,2,2,2,1,1,1,1,1,1, 1,1,1,1,2,1,1,1,1,1, 1,1,2,1,1,1,1,1,1,1],
[0,1,0,1,1,1,2,2,2,3, 4,7,9,7,4,3,2,3,3,3, 2,2,2,2,2,1,1,1,1,1, 1,1,1,1,1,1,1,1,1,1, 1,1,1,1,1,1,1,1,1,1],
[1,0,1,0,1,1,1,2,2,2, 3,4,7,9,7,4,3,2,3,3, 3,2,2,2,2,2,1,1,1,1, 1,1,1,1,1,1,1,1,2,1, 1,1,1,1,1,1,2,1,1,1],
[0,1,0,1,1,1,1,2,3,3, 2,3,4,7,9,7,4,3,2,3, 3,3,2,2,2,2,2,1,1,1, 1,1,1,1,1,1,1,1,1,1, 1,1,1,1,1,1,1,1,1,1],
[1,0,0,1,1,1,1,1,2,3, 3,2,3,4,7,9,7,4,3,2, 3,3,3,2,2,2,2,2,1,1, 1,1,1,2,1,1,1,1,1,1, 1,1,1,1,1,2,1,1,1,1],
[1,1,0,0,1,1,1,1,2,2, 3,3,2,3,4,7,9,7,4,3, 3,3,3,3,2,2,2,2,2,1, 1,1,1,1,1,1,1,1,1,1, 1,2,1,1,1,1,1,1,1,1],
[0,1,1,0,0,1,1,1,2,2, 2,3,3,2,3,4,7,9,7,4, 3,3,3,3,3,2,2,2,2,2, 1,1,1,1,1,1,1,1,1,2, 1,1,1,1,1,1,1,1,1,1],
[0,0,1,1,0,1,1,1,1,2, 2,2,3,3,2,3,4,7,9,7, 4,3,3,3,3,3,2,2,2,2, 2,1,1,1,1,1,1,1,1,1, 1,1,1,1,1,1,1,2,1,1],
[1,0,0,1,1,0,1,1,1,2, 2,2,2,3,3,2,3,4,7,9, 7,4,3,3,3,3,3,2,2,2, 2,2,1,1,1,2,1,1,1,1, 1,1,1,2,1,1,1,1,1,1],
[0,1,0,0,1,1,1,1,1,1, 2,2,2,2,3,3,2,3,4,7, 9,7,4,3,3,3,3,3,2,2, 2,2,2,1,1,1,1,1,1,1, 1,1,1,1,1,1,1,1,1,1],
[0,0,1,0,0,1,1,1,1,1, 1,2,2,2,2,3,3,2,3,4, 7,9,7,4,3,3,3,3,3,2, 2,2,2,2,1,1,1,1,1,1, 2,1,1,1,1,1,1,1,1,1],
[1,0,0,1,1,0,1,1,1,1, 1,2,2,2,2,2,3,3,2,3, 4,7,9,7,4,3,3,3,3,3, 2,2,2,2,2,1,1,1,1,1, 1,1,1,1,1,1,2,1,1,1],
[0,0,0,0,1,0,0,1,1,1, 1,1,2,2,2,2,2,3,3,2, 3,4,7,9,7,4,3,3,3,3, 3,2,2,2,2,2,1,1,1,1, 1,1,1,1,1,1,1,1,1,1],
[0,1,0,0,0,1,1,1,1,2, 1,1,1,2,2,2,2,2,3,3, 2,3,4,7,9,7,4,3,3,3, 3,3,2,2,2,2,2,1,1,1, 1,1,1,1,1,1,1,1,1,1],
[0,0,1,0,0,0,1,1,1,1, 2,1,1,1,2,2,2,2,2,3, 3,2,3,4,7,9,7,4,3,3, 3,3,3,2,2,2,2,2,1,1, 1,1,1,1,1,2,1,1,1,1],
[1,0,0,0,1,0,0,1,1,1, 1,2,1,1,1,2,2,2,2,2, 3,3,2,3,4,7,9,7,4,3, 3,3,3,3,2,2,2,2,2,1, 1,1,1,1,1,1,1,1,1,1],
[0,0,0,1,0,0,1,1,1,1, 1,1,2,1,1,1,2,2,2,2, 2,3,3,2,3,4,7,9,7,4, 3,3,3,3,3,2,2,2,2,2, 1,1,1,1,1,1,1,1,1,1],
[0,1,0,0,0,1,0,1,1,1, 1,1,1,2,1,1,1,2,2,2, 2,2,3,3,2,3,4,7,9,7, 4,3,3,3,3,3,2,2,2,2, 2,1,1,1,1,1,1,1,1,1],
[0,0,0,0,1,0,1,1,0,1, 1,1,1,1,2,1,1,1,2,2, 2,2,2,3,3,2,3,4,7,9, 7,4,3,3,3,3,3,2,2,2, 2,2,1,1,1,1,1,1,2,1],
[1,0,0,0,0,1,1,0,1,1, 1,1,1,1,1,2,1,1,1,2, 2,2,2,2,3,3,2,3,4,7, 9,7,4,3,3,3,3,3,2,2, 2,2,2,1,1,1,1,1,1,1],
[0,0,1,0,0,0,1,1,1,0, 1,1,1,1,1,1,2,1,1,1, 2,2,2,2,2,3,3,2,3,4, 7,9,7,4,3,3,3,3,3,2, 2,2,2,2,1,1,1,1,1,1],
[0,0,0,0,1,0,0,1,1,1, 1,0,1,1,1,1,1,2,1,1, 1,2,2,2,2,2,3,3,2,3, 4,7,9,7,4,3,3,3,3,3, 2,2,2,2,2,1,1,1,1,1],
[0,1,0,0,0,0,1,0,1,1, 1,1,1,1,1,1,1,1,2,1, 1,1,2,2,2,2,2,3,3,2, 3,4,7,9,7,4,3,3,3,3, 3,2,2,2,2,2,1,1,1,1],
[0,0,0,1,0,0,0,1,1,1, 1,1,1,0,1,1,1,1,1,2, 1,1,1,2,2,2,2,2,3,3, 2,3,4,7,9,7,4,3,3,3, 3,3,2,2,2,2,2,1,1,1],
[0,0,0,0,0,1,0,1,0,1, 1,1,1,1,1,1,1,1,1,1, 2,1,1,1,2,2,2,2,2,3, 3,2,3,4,7,9,7,4,3,3, 3,3,3,2,2,2,2,2,1,1],
[1,0,0,0,0,0,1,0,1,1, 1,1,1,1,1,0,1,1,1,1, 1,2,1,1,1,2,2,2,2,2, 3,3,2,3,4,7,9,7,4,3, 3,3,3,3,2,2,2,2,2,1],
[0,0,0,0,1,0,0,1,1,1, 1,1,1,1,1,1,1,1,1,1, 1,1,2,1,1,1,2,2,2,2, 2,3,3,2,3,4,7,9,7,4, 3,3,3,3,3,2,2,2,2,2],
[0,1,0,0,0,0,1,0,1,1, 1,1,1,1,1,1,1,1,1,1, 1,1,1,2,1,1,1,2,2,2, 2,2,3,3,2,3,4,7,9,7, 4,3,3,3,3,3,2,2,2,2],
[0,0,0,0,0,1,0,1,1,1, 1,1,0,1,1,1,1,1,1,1, 1,1,1,1,2,1,1,1,2,2, 2,2,2,3,3,2,3,4,7,9, 7,4,3,3,3,3,3,2,2,2],
[0,0,1,0,0,0,1,1,1,1, 1,1,1,1,1,1,1,1,1,1, 1,1,1,1,1,2,1,1,1,2, 2,2,2,2,3,3,2,3,4,7, 9,7,4,3,3,3,3,3,2,2],
[1,0,0,0,1,0,1,1,1,0, 1,1,1,1,1,1,1,1,1,1, 1,1,1,1,1,1,2,1,1,1, 2,2,2,2,2,3,3,2,3,4, 7,9,7,4,3,3,3,3,3,2],
[1,1,0,0,0,1,1,1,1,1, 1,1,1,1,0,1,1,1,1,1, 1,1,1,1,1,1,1,2,1,1, 1,2,2,2,2,2,3,3,2,3, 4,7,9,7,4,3,3,3,3,3],
[2,1,1,0,1,1,1,0,1,1, 1,1,1,1,1,1,1,1,1,1, 1,1,1,1,1,1,1,1,2,1, 1,1,2,2,2,2,2,3,3,2, 3,4,7,9,7,4,3,3,3,3],
[2,2,1,1,1,1,1,1,1,1, 1,1,1,1,1,1,1,1,1,1, 1,1,1,1,1,1,1,1,1,2, 1,1,1,2,2,2,2,2,3,3, 2,3,4,7,9,7,4,3,3,3],
[2,2,1,1,1,1,1,1,1,1, 1,0,1,1,1,1,1,1,1,1, 1,1,1,1,1,1,1,1,1,1, 2,1,1,1,2,2,2,2,2,3, 3,2,3,4,7,9,7,4,3,3],
[3,2,2,1,1,1,1,1,1,1, 1,1,1,0,1,1,1,1,1,1, 1,1,1,1,1,1,1,1,1,1, 1,2,1,1,1,2,2,2,2,2, 3,3,2,3,4,7,9,7,4,3],
[2,2,1,1,1,1,1,1,0,1, 1,1,1,1,1,1,0,1,1,1, 1,1,1,1,1,1,1,1,1,1, 1,1,2,1,1,1,2,2,2,2, 2,3,3,2,3,4,7,9,7,4],
[1,2,0,1,0,1,1,1,1,1, 1,1,1,1,1,1,1,1,1,1, 1,1,1,1,1,1,1,1,1,1, 1,1,1,2,1,1,1,2,2,2, 2,2,3,3,2,3,4,7,9,7],
[1,0,0,1,1,1,0,1,1,1, 0,1,1,1,1,1,0,0,1,1, 1,1,1,1,1,1,1,0,1,1, 1,1,1,1,2,1,1,1,2,2, 2,2,2,3,3,2,3,4,7,9]
];

const palette = ['#120a28','#1c0f2e','#3d1a47','#5a1e52','#7f1e5a','#9f1b5a','#c8154e','#e9433f','#f6a47b','#faebdd'];
const svgNS = 'http://www.w3.org/2000/svg';
const chart = document.getElementById('chart');

function makeScale(rangeStart, rangeEnd) {
  return function (value) {
    return rangeStart + (value - axisDomain[0]) / (axisDomain[1] - axisDomain[0]) * (rangeEnd - rangeStart);
  };
}

function colorScale(level) {
  const clamped = Math.max(0, Math.min(levelMax, Math.round(level)));
  return palette[clamped];
}

function addText(parent, content, x, y, anchor, transform) {
  const t = document.createElementNS(svgNS, 'text');
  t.setAttribute('class', 'ax');
  t.setAttribute('text-anchor', anchor);
  if (transform) {
    t.setAttribute('transform', transform);
  } else {
    t.setAttribute('x', x);
    t.setAttribute('y', y);
  }
  t.textContent = content;
  parent.appendChild(t);
  return t;
}

function drawPanel(name, matrix, left, top, size) {
  const group = document.createElementNS(svgNS, 'g');
  
  
  chart.appendChild(group);
  const xScale = makeScale(left, left + size);
  const yScale = makeScale(top, top + size);
  const cellRows = matrix.length;
  matrix.forEach(function (row, r) {
    row.forEach(function (value, c) {
      const x0 = xScale(c * axisDomain[1] / row.length);
      const x1 = xScale((c + 1) * axisDomain[1] / row.length);
      const y0 = yScale(r * axisDomain[1] / cellRows);
      const y1 = yScale((r + 1) * axisDomain[1] / cellRows);
      const cell = document.createElementNS(svgNS, 'rect');
      cell.setAttribute('x', x0);
      cell.setAttribute('y', y0);
      cell.setAttribute('width', x1 - x0 + 0.3);
      cell.setAttribute('height', y1 - y0 + 0.3);
      cell.setAttribute('fill', colorScale(value));
      
      
      group.appendChild(cell);
    });
  });
  tickValues.forEach(function (tick) {
    const xLabel = addText(group, String(tick), xScale(tick), top + size + 19, 'middle');
    
    
    const yLabel = addText(group, String(tick), left - 6.5, yScale(tick) + 5.5, 'end');
    
    
  });
  const xTitle = addText(group, axisLabel, left + size / 2 + 1, top + size + 38, 'middle');
  
  
  const yTitle = addText(group, axisLabel, 0, 0, 'middle', 'translate(' + (left - 34) + ',' + (top + size / 2 - 1) + ') rotate(-90)');
  
  
}

drawPanel('yogi-pseudo-gradient-heatmap', yogiGradient, 177.3, 80, 159.4);
drawPanel('adam-pseudo-gradient-heatmap', adamGradient, 431.3, 80, 159.4);
drawPanel('yogi-model-update-heatmap', yogiUpdate, 177.3, 311.5, 158.4);
drawPanel('adam-model-update-heatmap', adamUpdate, 431.3, 311.5, 158.4);
</script>
</body>
</html>
